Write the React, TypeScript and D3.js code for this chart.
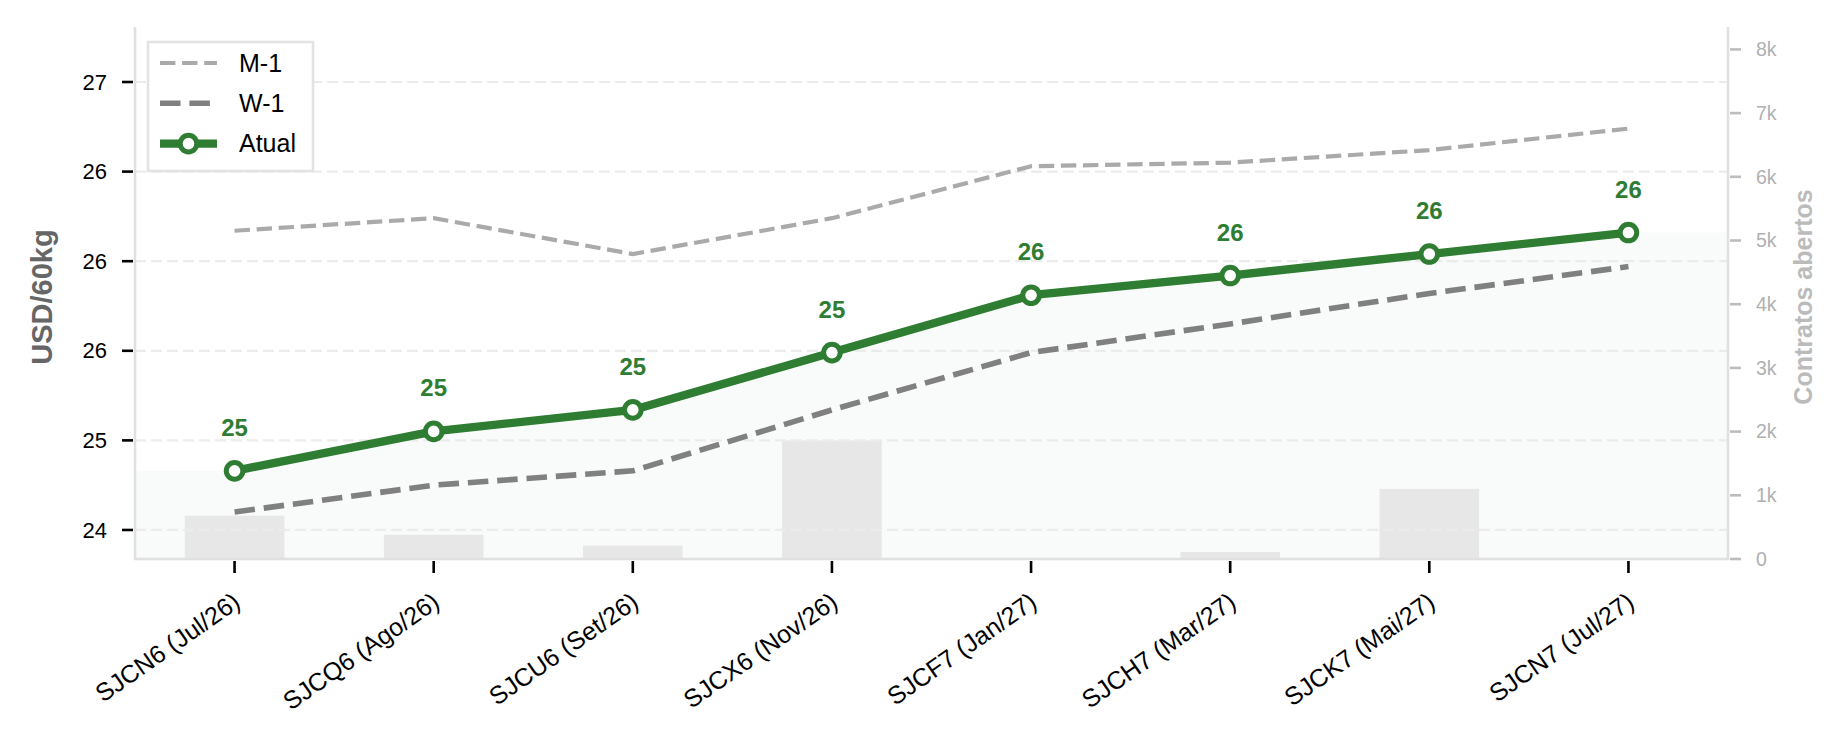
import React, { useRef, useEffect } from 'react';
import * as d3 from 'd3';

const contracts = [
  'SJCN6 (Jul/26)',
  'SJCQ6 (Ago/26)',
  'SJCU6 (Set/26)',
  'SJCX6 (Nov/26)',
  'SJCF7 (Jan/27)',
  'SJCH7 (Mar/27)',
  'SJCK7 (Mai/27)',
  'SJCN7 (Jul/27)',
];
const atual = [24.83, 25.05, 25.17, 25.49, 25.81, 25.92, 26.04, 26.16];
const monthAgo = [26.17, 26.24, 26.04, 26.24, 26.53, 26.55, 26.62, 26.74];
const weekAgo = [24.6, 24.75, 24.83, 25.17, 25.49, 25.65, 25.82, 25.97];
const openInterest = [680, 380, 210, 1860, 0, 110, 1100, 0];

const leftTicks = [24.5, 25, 25.5, 26, 26.5, 27];
const leftTickLabels = ['24', '25', '26', '26', '26', '27'];
const rightTicks = [0, 1000, 2000, 3000, 4000, 5000, 6000, 7000, 8000];
const rightTickLabels = ['0', '1k', '2k', '3k', '4k', '5k', '6k', '7k', '8k'];

const GREEN = '#2e7d32';
const FONT = '"Liberation Sans", Arial, sans-serif';

const App: React.FC = () => {
  const svgRef = useRef<SVGSVGElement>(null);

  useEffect(() => {
    const svgEl = svgRef.current;
    if (!svgEl) return;
    svgEl.innerHTML = '';

    /* ---------- Layout ---------- */
    const width = 1846;
    const height = 734;
    const plot = { left: 135, right: 1728, top: 27, bottom: 559 };

    const svg = d3.select(svgEl).attr('width', width).attr('height', height);
    svg.append('rect').attr('width', width).attr('height', height).attr('fill', '#fff');

    /* ---------- Scales ---------- */
    const x = d3.scalePoint<string>().domain(contracts).range([plot.left, plot.right]).padding(0.5);
    const y = d3.scaleLinear().domain([24.338, 27.307]).range([plot.bottom, plot.top]);
    const yR = d3.scaleLinear().domain([0, 8352]).range([plot.bottom, plot.top]);
    const px = (i: number) => x(contracts[i])!;

    /* ---------- Background fill under current curve ---------- */
    const fillPts: [number, number][] = [
      [plot.left, y(atual[0])],
      ...atual.map((v, i) => [px(i), y(v)] as [number, number]),
      [plot.right, y(atual[atual.length - 1])],
    ];
    svg
      .append('path')
      .attr('d', d3.area<[number, number]>().x(d => d[0]).y0(plot.bottom).y1(d => d[1])(fillPts)!)
      .attr('fill', GREEN)
      .attr('fill-opacity', 0.03);

    /* ---------- Open interest bars ---------- */
    const barW = x.step() * 0.5;
    svg
      .selectAll('rect.bar')
      .data(openInterest)
      .enter()
      .append('rect')
      .attr('class', 'bar')
      .attr('x', (_d, i) => px(i) - barW / 2)
      .attr('y', d => yR(d))
      .attr('width', barW)
      .attr('height', d => yR(0) - yR(d))
      .attr('fill', '#e6e7e6');

    /* ---------- Grid ---------- */
    svg
      .selectAll('line.grid')
      .data(leftTicks)
      .enter()
      .append('line')
      .attr('x1', plot.left)
      .attr('x2', plot.right)
      .attr('y1', d => y(d))
      .attr('y2', d => y(d))
      .attr('stroke', '#ebebeb')
      .attr('stroke-width', 2.2)
      .attr('stroke-dasharray', '11 5');

    /* ---------- Spines ---------- */
    const spine = '#e0e0e0';
    svg.append('line').attr('x1', plot.left).attr('x2', plot.left).attr('y1', plot.top).attr('y2', plot.bottom + 1)
      .attr('stroke', spine).attr('stroke-width', 2.6);
    svg.append('line').attr('x1', plot.right).attr('x2', plot.right).attr('y1', plot.top).attr('y2', plot.bottom + 1)
      .attr('stroke', spine).attr('stroke-width', 2.6);
    svg.append('line').attr('x1', plot.left - 1).attr('x2', plot.right + 1).attr('y1', plot.bottom).attr('y2', plot.bottom)
      .attr('stroke', spine).attr('stroke-width', 2.6);

    /* ---------- Lines ---------- */
    const line = d3.line<number>().x((_d, i) => px(i)).y(d => y(d));

    svg.append('path').attr('d', line(monthAgo)!).attr('fill', 'none')
      .attr('stroke', '#aaaaaa').attr('stroke-width', 4.2).attr('stroke-dasharray', '15.4 6.7');
    svg.append('path').attr('d', line(weekAgo)!).attr('fill', 'none')
      .attr('stroke', '#808080').attr('stroke-width', 5.6).attr('stroke-dasharray', '20.5 8.9');
    svg.append('path').attr('d', line(atual)!).attr('fill', 'none')
      .attr('stroke', GREEN).attr('stroke-width', 8.3).attr('stroke-linejoin', 'round');

    svg
      .selectAll('circle.pt')
      .data(atual)
      .enter()
      .append('circle')
      .attr('cx', (_d, i) => px(i))
      .attr('cy', d => y(d))
      .attr('r', 8.3)
      .attr('fill', '#fff')
      .attr('stroke', GREEN)
      .attr('stroke-width', 5);

    svg
      .selectAll('text.val')
      .data(atual)
      .enter()
      .append('text')
      .attr('x', (_d, i) => px(i))
      .attr('y', d => y(d) - 35)
      .attr('text-anchor', 'middle')
      .style('font-family', FONT)
      .style('font-size', '24px')
      .style('font-weight', 'bold')
      .attr('fill', GREEN)
      .text(d => d3.format('.0f')(d));

    /* ---------- Left axis ---------- */
    const leftG = svg.append('g');
    leftTicks.forEach((t, i) => {
      leftG.append('line').attr('x1', plot.left - 13).attr('x2', plot.left - 2).attr('y1', y(t)).attr('y2', y(t))
        .attr('stroke', '#000').attr('stroke-width', 2.6);
      leftG.append('text').attr('x', plot.left - 28).attr('y', y(t)).attr('dy', '0.35em')
        .attr('text-anchor', 'end').style('font-family', FONT).style('font-size', '22px').attr('fill', '#000')
        .text(leftTickLabels[i]);
    });
    svg.append('text')
      .attr('transform', `translate(52,${(plot.top + plot.bottom) / 2 + 4}) rotate(-90)`)
      .attr('text-anchor', 'middle')
      .style('font-family', FONT).style('font-size', '29px').style('font-weight', 'bold')
      .attr('fill', '#666').text('USD/60kg');

    /* ---------- Right axis ---------- */
    const rightG = svg.append('g');
    rightTicks.forEach((t, i) => {
      rightG.append('line').attr('x1', plot.right + 2).attr('x2', plot.right + 13).attr('y1', yR(t)).attr('y2', yR(t))
        .attr('stroke', '#bdbdbd').attr('stroke-width', 2.6);
      rightG.append('text').attr('x', plot.right + 28).attr('y', yR(t)).attr('dy', '0.35em')
        .style('font-family', FONT).style('font-size', '19.5px').attr('fill', '#b0b0b0')
        .text(rightTickLabels[i]);
    });
    svg.append('text')
      .attr('transform', `translate(1812,${(plot.top + plot.bottom) / 2 + 4}) rotate(-90)`)
      .attr('text-anchor', 'middle')
      .style('font-family', FONT).style('font-size', '25px').style('font-weight', 'bold')
      .attr('fill', '#bbbbbb').text('Contratos abertos');

    /* ---------- Bottom axis ---------- */
    contracts.forEach((c, i) => {
      svg.append('line').attr('x1', px(i)).attr('x2', px(i)).attr('y1', plot.bottom + 2).attr('y2', plot.bottom + 14)
        .attr('stroke', '#000').attr('stroke-width', 2.6);
      svg.append('text')
        .attr('transform', `translate(${px(i) - 3},${plot.bottom + 32}) rotate(-35)`)
        .attr('dy', '0.72em')
        .attr('text-anchor', 'end')
        .style('font-family', FONT).style('font-size', '25px').attr('fill', '#000')
        .text(c);
    });

    /* ---------- Legend ---------- */
    const lg = svg.append('g');
    lg.append('rect').attr('x', 148).attr('y', 42).attr('width', 165).attr('height', 129)
      .attr('fill', '#fff').attr('stroke', '#e3e3e3').attr('stroke-width', 2.6);
    const rows = [
      { label: 'M-1', color: '#aaaaaa', w: 4.2, dash: '15.4 6.7', marker: false },
      { label: 'W-1', color: '#808080', w: 5.6, dash: '20.5 8.9', marker: false },
      { label: 'Atual', color: GREEN, w: 8.3, dash: null, marker: true },
    ];
    rows.forEach((r, i) => {
      const ry = 63 + i * 40.3;
      const l = lg.append('line').attr('x1', 160).attr('x2', 217).attr('y1', ry).attr('y2', ry)
        .attr('stroke', r.color).attr('stroke-width', r.w);
      if (r.dash) l.attr('stroke-dasharray', r.dash);
      if (r.marker) {
        lg.append('circle').attr('cx', 188.5).attr('cy', ry).attr('r', 8.3)
          .attr('fill', '#fff').attr('stroke', GREEN).attr('stroke-width', 5);
      }
      lg.append('text').attr('x', 239).attr('y', ry).attr('dy', '0.35em')
        .style('font-family', FONT).style('font-size', '25px').attr('fill', '#000').text(r.label);
    });
  }, []);

  return (
    <svg
      ref={svgRef}
      style={{ position: 'absolute', left: 0, top: 0, display: 'block' }}
      width={1846}
      height={734}
    />
  );
};

export default App;
